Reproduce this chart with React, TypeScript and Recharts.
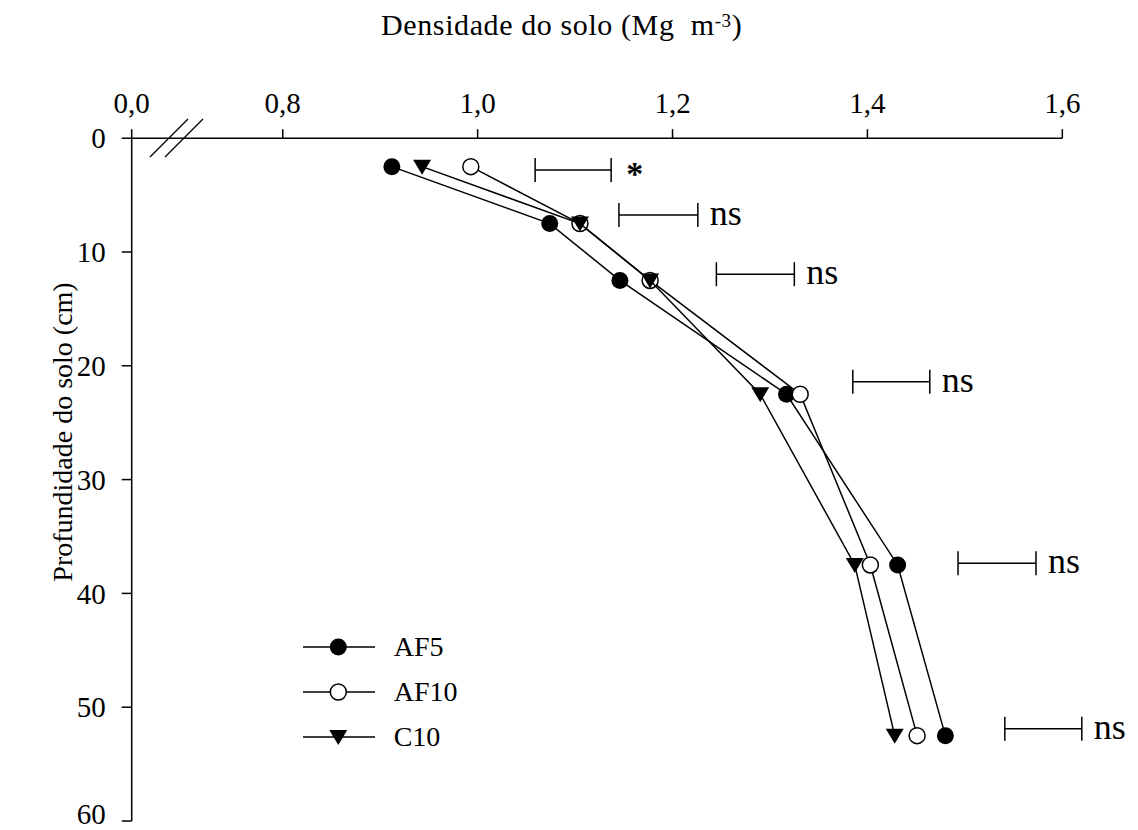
import React from 'react';
import { ScatterChart, Scatter, XAxis, YAxis, ReferenceLine, ErrorBar, Legend } from 'recharts';

// Ponto médio de cada camada de solo (cm)
const profundidade = [2.5, 7.5, 12.5, 22.5, 37.5, 52.5];

// Densidade do solo (Mg m-3) por tratamento
const af5 = [0.912, 1.074, 1.146, 1.317, 1.431, 1.48];
const af10 = [0.993, 1.105, 1.177, 1.331, 1.403, 1.451];
const c10 = [0.943, 1.105, 1.177, 1.29, 1.387, 1.428];

// Barras de DMS: início, fim, profundidade e significância
const dmsInicio = [1.059, 1.145, 1.245, 1.385, 1.493, 1.541];
const dmsFim = [1.137, 1.226, 1.325, 1.464, 1.573, 1.62];
const dmsProfundidade = [2.8, 6.75, 11.95, 21.4, 37.35, 51.9];
const significancia = ['*', 'ns', 'ns', 'ns', 'ns', 'ns'];

// Eixo x quebrado: a origem 0,0 fica logo antes de 0,8
const ORIGEM_X = 0.645;
const xTicks = [ORIGEM_X, 0.8, 1.0, 1.2, 1.4, 1.6];
const yTicks = [0, 10, 20, 30, 40, 50, 60];

const FONTE = "'Liberation Serif', 'Times New Roman', serif";
const PRETO = '#000';

const serie = (valores: number[]) => valores.map((x, i) => ({ x, y: profundidade[i] }));

const dms = dmsFim.map((fim, i) => ({
  x: fim,
  y: dmsProfundidade[i],
  err: [fim - dmsInicio[i], 0],
  sig: significancia[i],
}));

const circuloCheio = ({ cx, cy }: any) => <circle cx={cx} cy={cy} r={8.5} fill={PRETO} />;
const circuloAberto = ({ cx, cy }: any) => (
  <circle cx={cx} cy={cy} r={8} fill="#fff" stroke={PRETO} strokeWidth={1.5} />
);
const trianguloInvertido = ({ cx, cy }: any) => (
  <polygon points={`${cx - 9},${cy - 7} ${cx + 9},${cy - 7} ${cx},${cy + 8}`} fill={PRETO} />
);

const series = [
  { nome: 'AF5', dados: serie(af5), forma: circuloCheio },
  { nome: 'AF10', dados: serie(af10), forma: circuloAberto },
  { nome: 'C10', dados: serie(c10), forma: trianguloInvertido },
];

// Rótulo de significância à direita de cada barra de DMS
const rotuloDms = ({ cx, cy, payload }: any) =>
  payload.sig === '*' ? (
    <text x={cx + 15} y={cy + 15} fontSize={34} fontWeight="bold" fontFamily={FONTE} fill={PRETO}>
      *
    </text>
  ) : (
    <text x={cx + 12} y={cy + 10} fontSize={36} fontFamily={FONTE} fill={PRETO}>
      {payload.sig}
    </text>
  );

// Título do eixo x e marca de quebra do eixo
const tituloX = () => (
  <g>
    <text
      x={553.7}
      y={27}
      textAnchor="middle"
      fontSize={30}
      letterSpacing={0.6}
      fontFamily={FONTE}
      fill={PRETO}
    >
      Densidade do solo (Mg{'\u00a0'} m
      <tspan dy={-8} fontSize={19}>-3</tspan>
      <tspan dy={8}>)</tspan>
    </text>
    <line x1={142} y1={149} x2={180} y2={111} stroke={PRETO} strokeWidth={1.2} />
    <line x1={157} y1={149} x2={195} y2={111} stroke={PRETO} strokeWidth={1.2} />
  </g>
);

const tituloY = () => (
  <text
    x={54}
    y={424}
    transform="rotate(-90, 54, 424)"
    textAnchor="middle"
    dominantBaseline="central"
    fontSize={28}
    fontFamily={FONTE}
    fill={PRETO}
  >
    Profundidade do solo (cm)
  </text>
);

const legenda = () => (
  <div style={{ fontFamily: FONTE, fontSize: 28, color: PRETO }}>
    {series.map((s) => (
      <div key={s.nome} style={{ display: 'flex', alignItems: 'center', height: 45 }}>
        <svg width={72} height={24} style={{ display: 'block' }}>
          <line x1={0} y1={12} x2={72} y2={12} stroke={PRETO} strokeWidth={1.5} />
          {s.forma({ cx: 35.3, cy: 12 })}
        </svg>
        <span style={{ marginLeft: 19, lineHeight: 1 }}>{s.nome}</span>
      </div>
    ))}
  </div>
);

const fmtX = (v: number) => (v === ORIGEM_X ? '0,0' : v.toFixed(1).replace('.', ','));

const estiloTick = { fill: PRETO, fontSize: 29, fontFamily: FONTE };

export default function App() {
  return (
    <div style={{ width: 1130, height: 822 }}>
      <ScatterChart width={1130} height={822} margin={{ top: 0, right: 56.2, bottom: 9, left: 23.7 }}>
        <XAxis
          type="number"
          dataKey="x"
          orientation="top"
          domain={[ORIGEM_X, 1.62]}
          ticks={xTicks}
          tickFormatter={fmtX}
          height={130.2}
          axisLine={false}
          tickLine={{ stroke: PRETO, strokeWidth: 1.5 }}
          tickSize={9}
          tickMargin={16}
          tick={estiloTick}
          label={tituloX}
        />
        <YAxis
          type="number"
          dataKey="y"
          reversed
          domain={[0, 60]}
          ticks={yTicks}
          width={100}
          axisLine={{ stroke: PRETO, strokeWidth: 1.5 }}
          tickLine={{ stroke: PRETO, strokeWidth: 1.5 }}
          tickSize={10}
          tickMargin={16}
          tick={estiloTick}
          label={tituloY}
        />
        <ReferenceLine
          segment={[
            { x: ORIGEM_X, y: 0 },
            { x: 1.6, y: 0 },
          ]}
          stroke={PRETO}
          strokeWidth={1.5}
        />
        {series.map((s) => (
          <Scatter
            key={s.nome}
            name={s.nome}
            data={s.dados}
            shape={s.forma}
            line={{ stroke: PRETO, strokeWidth: 1.5 }}
            isAnimationActive={false}
          />
        ))}
        <Scatter data={dms} shape={rotuloDms} legendType="none" isAnimationActive={false}>
          <ErrorBar dataKey="err" direction="x" width={12} stroke={PRETO} strokeWidth={1.5} isAnimationActive={false} />
        </Scatter>
        <Legend
          layout="horizontal"
          align="center"
          verticalAlign="middle"
          wrapperStyle={{ left: 294.7, top: 616.5, width: 'auto' }}
          content={legenda}
        />
      </ScatterChart>
    </div>
  );
}
